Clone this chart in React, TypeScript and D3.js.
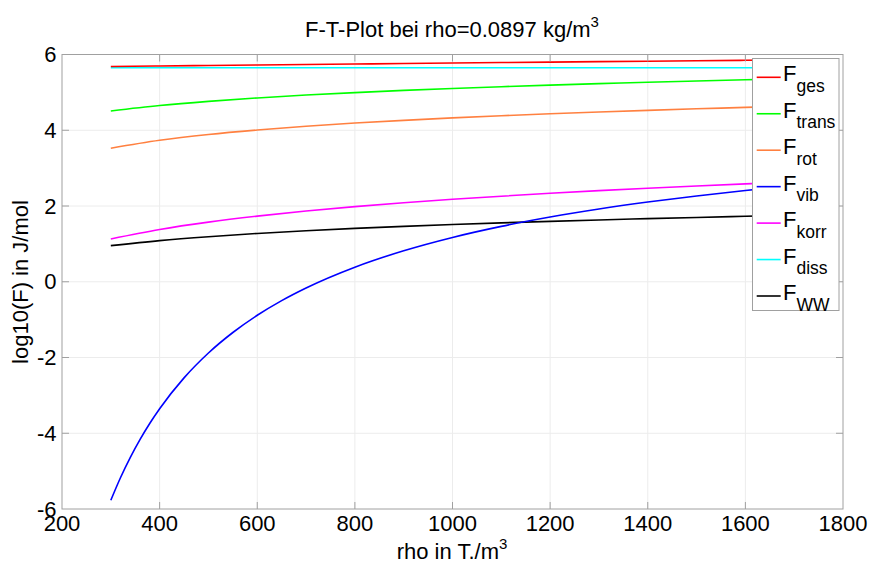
import React from "react";
import * as d3 from "d3";

const W = 872;
const H = 564;

// Temperatures (x) for the smooth series
const temps = [300, 400, 500, 600, 700, 800, 900, 1000, 1100, 1200, 1300, 1400, 1500, 1600, 1700];
const fGes = [5.683, 5.697, 5.71, 5.723, 5.736, 5.749, 5.762, 5.774, 5.787, 5.799, 5.811, 5.823, 5.835, 5.847, 5.858];
const fTrans = [4.51, 4.653, 4.763, 4.853, 4.929, 4.994, 5.052, 5.103, 5.15, 5.192, 5.231, 5.267, 5.3, 5.332, 5.361];
const fRot = [3.526, 3.735, 3.888, 4.007, 4.106, 4.19, 4.262, 4.326, 4.383, 4.435, 4.483, 4.526, 4.566, 4.604, 4.639];
const fKorr = [1.131, 1.381, 1.575, 1.733, 1.867, 1.983, 2.085, 2.177, 2.259, 2.335, 2.405, 2.469, 2.529, 2.585, 2.638];
const fDiss = [5.65, 5.65, 5.65, 5.65, 5.65, 5.65, 5.65, 5.65, 5.65, 5.65, 5.65, 5.65, 5.65, 5.65, 5.65];
const fWW = [0.954, 1.087, 1.19, 1.275, 1.346, 1.408, 1.462, 1.511, 1.555, 1.595, 1.632, 1.666, 1.698, 1.728, 1.756];

// Vibration series is steep at low T, read at more points
const tempsVib = [300, 320, 340, 360, 380, 400, 450, 500, 550, 600, 650, 700, 800, 900, 1000, 1100, 1200, 1300, 1400, 1500, 1600, 1700];
const fVib = [-5.77, -5.169, -4.637, -4.163, -3.737, -3.353, -2.538, -1.881, -1.34, -0.885, -0.498, -0.164, 0.385, 0.818, 1.17, 1.462, 1.708, 1.92, 2.104, 2.266, 2.409, 2.538];

const xTicks = [200, 400, 600, 800, 1000, 1200, 1400, 1600, 1800];
const yTicks = [-6, -4, -2, 0, 2, 4, 6];

const legendNames = ["ges", "trans", "rot", "vib", "korr", "diss", "WW"];
const legendColors = ["#ff0000", "#00ff00", "#ff8040", "#0000ff", "#ff00ff", "#00ffff", "#000000"];

const FONT = "'Liberation Sans', Arial, Helvetica, sans-serif";

export default function App() {
  const left = 62, right = 843, top = 54.5, bottom = 509;
  const x = d3.scaleLinear().domain([200, 1800]).range([left, right]);
  const y = d3.scaleLinear().domain([-6, 6]).range([bottom, top]);

  const line = d3
    .line<[number, number]>()
    .x((d) => x(d[0]))
    .y((d) => y(d[1]))
    .curve(d3.curveMonotoneX);

  const series: { name: string; color: string; xs: number[]; ys: number[] }[] = [
    { name: "ges", color: legendColors[0], xs: temps, ys: fGes },
    { name: "trans", color: legendColors[1], xs: temps, ys: fTrans },
    { name: "rot", color: legendColors[2], xs: temps, ys: fRot },
    { name: "vib", color: legendColors[3], xs: tempsVib, ys: fVib },
    { name: "korr", color: legendColors[4], xs: temps, ys: fKorr },
    { name: "diss", color: legendColors[5], xs: temps, ys: fDiss },
    { name: "WW", color: legendColors[6], xs: temps, ys: fWW },
  ];
  // draw order so that red sits above cyan
  const drawOrder = ["diss", "trans", "rot", "korr", "WW", "vib", "ges"];

  const axisColor = "#a0a0a0";
  const gridColor = "#ececec";
  const tickLen = 7;

  const lgX = 752.5, lgY = 58.5, lgW = 86.5, lgH = 252;
  const entry0 = 77.3, entryStep = 36.45;

  return (
    <svg
      width={W}
      height={H}
      style={{ position: "absolute", left: 0, top: 0, background: "#fff" }}
      fontFamily={FONT}
    >
      <rect x={0} y={0} width={W} height={H} fill="#fff" />
      {/* grid */}
      {xTicks.slice(1, -1).map((t) => (
        <line key={"gx" + t} x1={x(t)} x2={x(t)} y1={top} y2={bottom} stroke={gridColor} strokeWidth={1} />
      ))}
      {yTicks.slice(1, -1).map((t) => (
        <line key={"gy" + t} x1={left} x2={right} y1={y(t)} y2={y(t)} stroke={gridColor} strokeWidth={1} />
      ))}
      {/* curves */}
      {drawOrder.map((n) => {
        const s = series.find((q) => q.name === n)!;
        const pts: [number, number][] = s.xs.map((v, i) => [v, s.ys[i]]);
        return <path key={n} d={line(pts) || ""} fill="none" stroke={s.color} strokeWidth={1.6} />;
      })}
      {/* ticks */}
      {xTicks.slice(1, -1).map((t) => (
        <g key={"tx" + t}>
          <line x1={x(t)} x2={x(t)} y1={bottom} y2={bottom - tickLen} stroke={axisColor} />
          <line x1={x(t)} x2={x(t)} y1={top} y2={top + tickLen} stroke={axisColor} />
        </g>
      ))}
      {yTicks.slice(1, -1).map((t) => (
        <g key={"ty" + t}>
          <line x1={left} x2={left + tickLen} y1={y(t)} y2={y(t)} stroke={axisColor} />
          <line x1={right} x2={right - tickLen} y1={y(t)} y2={y(t)} stroke={axisColor} />
        </g>
      ))}
      {/* box */}
      <rect x={left} y={top} width={right - left} height={bottom - top} fill="none" stroke={axisColor} strokeWidth={1} />
      {/* tick labels */}
      {xTicks.map((t) => (
        <text key={"lx" + t} x={x(t)} y={531} textAnchor="middle" fontSize={22} fill="#000">
          {t}
        </text>
      ))}
      {yTicks.map((t) => (
        <text key={"ly" + t} x={56.5} y={y(t) + 7.5} textAnchor="end" fontSize={22} fill="#000">
          {t}
        </text>
      ))}
      {/* axis labels */}
      <text x={452} y={559} textAnchor="middle" fontSize={22} fill="#000">
        rho in T./m<tspan dy={-10} fontSize={15}>3</tspan>
      </text>
      <text transform={`translate(28,282) rotate(-90)`} textAnchor="middle" fontSize={22} fill="#000">
        log10(F) in J/mol
      </text>
      {/* title */}
      <text x={452} y={36.5} textAnchor="middle" fontSize={22} fill="#000">
        F-T-Plot bei rho=0.0897 kg/m<tspan dy={-10} fontSize={15}>3</tspan>
      </text>
      {/* legend */}
      <rect x={lgX} y={lgY} width={lgW} height={lgH} fill="#fff" stroke={axisColor} strokeWidth={1} />
      {legendNames.map((n, i) => {
        const ly = entry0 + i * entryStep;
        return (
          <g key={"lg" + n}>
            <line x1={756.7} x2={780.7} y1={ly} y2={ly} stroke={legendColors[i]} strokeWidth={1.6} />
            <text x={783} y={ly + 4} fontSize={22} fill="#000">
              F
              <tspan dy={10.5} fontSize={17.5}>
                {n}
              </tspan>
            </text>
          </g>
        );
      })}
    </svg>
  );
}
